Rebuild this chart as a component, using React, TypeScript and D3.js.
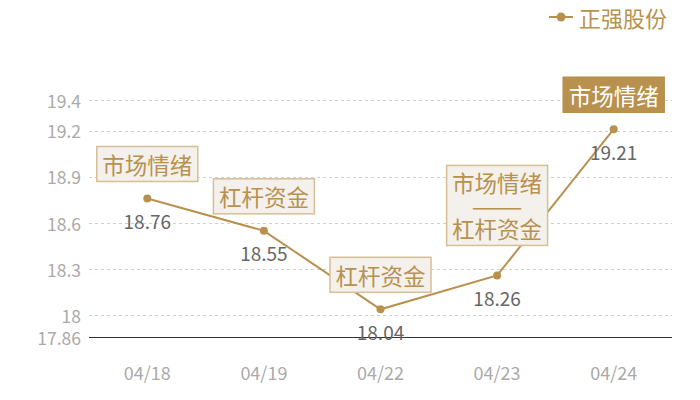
import React from "react";
import * as d3 from "d3";

const dates = ["04/18", "04/19", "04/22", "04/23", "04/24"];
const prices = [18.76, 18.55, 18.04, 18.26, 19.21];
const notes: string[][] = [
  ["市场情绪"],
  ["杠杆资金"],
  ["杠杆资金"],
  ["市场情绪", "——", "杠杆资金"],
  ["市场情绪"],
];
const highlighted = [false, false, false, false, true];
const yTicks = [17.86, 18, 18.3, 18.6, 18.9, 19.2, 19.4];
const seriesName = "正强股份";

const W = 700;
const H = 400;
const font = "'Noto Sans CJK SC', 'Noto Sans', sans-serif";
const gold = "#b8914f";

const App: React.FC = () => {
  const x = d3.scaleBand<string>().domain(dates).range([89, 672]);
  const y = d3.scaleLinear().domain([17.86, 19.4]).range([337, 100]);
  const cx = (d: string) => (x(d) ?? 0) + x.bandwidth() / 2;
  const crisp = (v: number) => Math.round(v) + 0.5;

  const line = d3
    .line<number>()
    .x((_, i) => cx(dates[i]))
    .y((v) => y(v));

  const noteSize = 22.5;
  const lineGap = 23;

  return (
    <svg
      width={W}
      height={H}
      style={{ position: "fixed", left: 0, top: 0, background: "#fff" }}
      fontFamily={font}
    >
      {/* grid + y ticks */}
      {yTicks.map((t) => (
        <g key={t}>
          {t !== 17.86 && (
            <line
              x1={89}
              x2={672}
              y1={crisp(y(t))}
              y2={crisp(y(t))}
              stroke="#d0d0d0"
              strokeDasharray="3,3"
            />
          )}
          <text
            x={81}
            y={y(t)}
            textAnchor="end"
            dominantBaseline="central"
            fontSize={17.5}
            fill="#aaaaaa"
          >
            {t}
          </text>
        </g>
      ))}
      <line
        x1={89}
        x2={672}
        y1={crisp(y(17.86))}
        y2={crisp(y(17.86))}
        stroke="#333"
        strokeWidth={1}
      />

      {/* x labels */}
      {dates.map((d) => (
        <text
          key={d}
          x={cx(d)}
          y={372}
          textAnchor="middle"
          dominantBaseline="central"
          fontSize={18}
          fill="#aaaaaa"
        >
          {d}
        </text>
      ))}

      {/* line */}
      <path d={line(prices) ?? ""} fill="none" stroke={gold} strokeWidth={2} />
      {prices.map((v, i) => (
        <circle key={i} cx={cx(dates[i])} cy={y(v)} r={4} fill={gold} />
      ))}

      {/* value labels */}
      {prices.map((v, i) => (
        <text
          key={i}
          x={cx(dates[i])}
          y={y(v) + 22}
          textAnchor="middle"
          dominantBaseline="central"
          fontSize={19}
          fill="#666666"
        >
          {v}
        </text>
      ))}

      {/* annotation boxes */}
      {notes.map((lines, i) => {
        const px = cx(dates[i]);
        const py = y(prices[i]);
        const gap = lines.length > 1 ? 30 : 17;
        const bh = lines.length > 1 ? 80 : 35;
        const bw = 101;
        const top = py - gap - bh;
        const hl = highlighted[i];
        const first = top + bh / 2 - ((lines.length - 1) * lineGap) / 2;
        return (
          <g key={i}>
            <rect
              x={px - bw / 2}
              y={top}
              width={bw}
              height={bh}
              fill={hl ? gold : "#f4f0eb"}
              stroke={hl ? gold : "#d6bf98"}
              strokeWidth={1.5}
            />
            {lines.map((s, j) => (
              <text
                key={j}
                x={px}
                y={first + j * lineGap}
                textAnchor="middle"
                dominantBaseline="central"
                fontSize={noteSize}
                fill={hl ? "#ffffff" : gold}
                {...(s === "——"
                  ? { textLength: 51, lengthAdjust: "spacingAndGlyphs" }
                  : {})}
              >
                {s}
              </text>
            ))}
          </g>
        );
      })}

      {/* legend */}
      <g>
        <line x1={549} x2={573} y1={17} y2={17} stroke={gold} strokeWidth={2} />
        <circle cx={561} cy={17} r={4.5} fill={gold} />
        <text x={579} y={17} dominantBaseline="central" fontSize={22} fill={gold}>
          {seriesName}
        </text>
      </g>
    </svg>
  );
};

export default App;
